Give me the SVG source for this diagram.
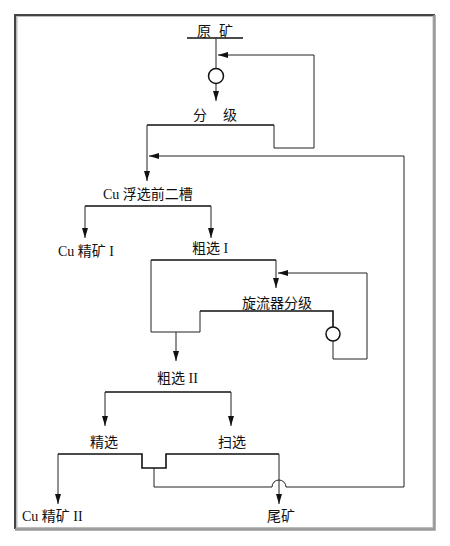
<svg xmlns="http://www.w3.org/2000/svg" width="450" height="546" viewBox="0 0 450 546">
<style>
.ln{fill:none;stroke:#222;stroke-width:1}
.bar{fill:none;stroke:#111;stroke-width:1.6}
.t{font-family:"Liberation Serif","Noto Sans CJK SC",serif;font-size:14px;fill:#111}
.eq{fill:#fff;stroke:#111;stroke-width:1.5}
</style>
<defs>
<marker id="ar" markerUnits="userSpaceOnUse" markerWidth="10" markerHeight="6" refX="10" refY="3" orient="auto">
<path d="M0,0 L10,3 L0,6 z" fill="#111"/>
</marker>
</defs>
<rect x="0" y="0" width="450" height="546" fill="#fff"/>
<g id="frame">
<rect x="16.5" y="16" width="417" height="512" fill="none" stroke="#bbb" stroke-width="2"/>
<path d="M15,529 V15 H435" fill="none" stroke="#444" stroke-width="2"/>
<path d="M434.5,15 V529.5 H15" fill="none" stroke="#999" stroke-width="2.5"/>
</g>
<g id="connectors">
<path class="bar" d="M187,38 H243"/>
<path class="ln" d="M216,38 V68.5"/>
<path class="ln" d="M274,125 V148 H314 V55 H218" marker-end="url(#ar)"/>
<path class="ln" d="M216,83.5 V101" marker-end="url(#ar)"/>
<path class="bar" d="M147,125 H274"/>
<path class="ln" d="M147,125 V181" marker-end="url(#ar)"/>
<path class="ln" d="M154,468 V487 H272 A7,7 0 0 1 286,487 H404 V156 H149" marker-end="url(#ar)"/>
<path class="bar" d="M85,206 H211"/>
<path class="ln" d="M85,206 V238" marker-end="url(#ar)"/>
<path class="ln" d="M211,206 V238" marker-end="url(#ar)"/>
<path class="bar" d="M151,260 H276"/>
<path class="ln" d="M276,260 V288" marker-end="url(#ar)"/>
<path class="ln" d="M151,260 V332 H200 V311"/>
<path class="bar" d="M200,311 H333 V327"/>
<path class="ln" d="M333,341 V359 H367 V273 H278" marker-end="url(#ar)"/>
<path class="ln" d="M176,332 V361" marker-end="url(#ar)"/>
<path class="bar" d="M105,392 H231"/>
<path class="ln" d="M105,392 V426" marker-end="url(#ar)"/>
<path class="ln" d="M231,392 V426" marker-end="url(#ar)"/>
<path class="bar" d="M58,454 H142 V468 H166 V454 H279"/>
<path class="ln" d="M58,454 V504" marker-end="url(#ar)"/>
<path class="ln" d="M279,454 V504" marker-end="url(#ar)"/>
</g>
<g id="feed"><text class="t" x="197" y="36">原</text><text class="t" x="219" y="36">矿</text></g>
<g id="pump1"><circle class="eq" cx="216" cy="76" r="7.5"/></g>
<g id="classify"><text class="t" x="193" y="120">分</text><text class="t" x="223" y="120">级</text></g>
<g id="cu-pre"><text class="t" x="103" y="199">Cu 浮选前二槽</text></g>
<g id="cu-conc1"><text class="t" x="58" y="256">Cu 精矿 I</text></g>
<g id="rough1"><text class="t" x="192" y="253">粗选 I</text></g>
<g id="cyclone"><text class="t" x="242" y="308">旋流器分级</text></g>
<g id="pump2"><circle class="eq" cx="333" cy="334" r="7"/></g>
<g id="rough2"><text class="t" x="157" y="383">粗选 II</text></g>
<g id="clean"><text class="t" x="90" y="447">精选</text></g>
<g id="scav"><text class="t" x="218" y="447">扫选</text></g>
<g id="cu-conc2"><text class="t" x="22" y="521">Cu 精矿 II</text></g>
<g id="tail"><text class="t" x="267" y="521">尾矿</text></g>
</svg>
